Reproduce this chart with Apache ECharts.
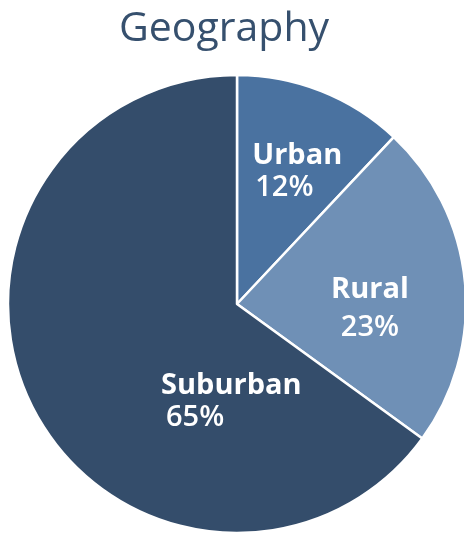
<!DOCTYPE html>
<html>
<head>
<meta charset="utf-8">
<script src="https://cdn.jsdelivr.net/npm/echarts@6/dist/echarts.min.js"></script>
<style>
  html, body { margin: 0; padding: 0; background: #fff; }
  #chart { width: 464px; height: 534px; }
</style>
</head>
<body>
<div id="chart"></div>
<script>
// 数据
var categories = ['Urban', 'Rural', 'Suburban']
var shares = [12, 23, 65]
var colors = ['#4a72a0', '#6f90b6', '#344d6b']

// 每个扇区标签的偏移和对齐
var labelOffsets = [[17, -23], [16, 16], [99, 44]]
var labelAlign = ['left', 'center', 'left']
var lineHeights = [32, 38, 32]

var chart = echarts.init(document.getElementById('chart'))

var pieData = []
for (var i in categories) {
  pieData.push({
    name: categories[i],
    value: shares[i],
    itemStyle: { color: colors[i] },
    label: {
      offset: labelOffsets[i],
      rich: {
        n: { fontSize: 29, fontWeight: 'bold', color: '#fff', align: labelAlign[i], lineHeight: lineHeights[i], fontFamily: 'Open Sans' },
        p: { fontSize: 29, fontWeight: 600, color: '#fff', align: labelAlign[i], lineHeight: lineHeights[i], fontFamily: 'Open Sans', padding: [0, 0, 0, i == 0 ? 3 : (i == 2 ? 5 : 0)] }
      }
    }
  })
}

var option = {
  animation: false,
  title: {
    text: 'Geography',
    left: 114,
    top: 4,
    textStyle: {
      fontFamily: 'Open Sans',
      fontSize: 41,
      fontWeight: 'normal',
      color: '#36506e'
    }
  },
  series: [
    {
      type: 'pie',
      center: [237, 304],
      radius: 229,
      startAngle: 90,
      clockwise: true,
      itemStyle: {
        borderColor: '#fff',
        borderWidth: 2.5
      },
      label: {
        show: true,
        position: 'inside',
        formatter: '{n|{b}}\n{p|{d}%}'
      },
      labelLine: { show: false },
      data: pieData
    }
  ]
}

chart.setOption(option)
</script>
</body>
</html>
